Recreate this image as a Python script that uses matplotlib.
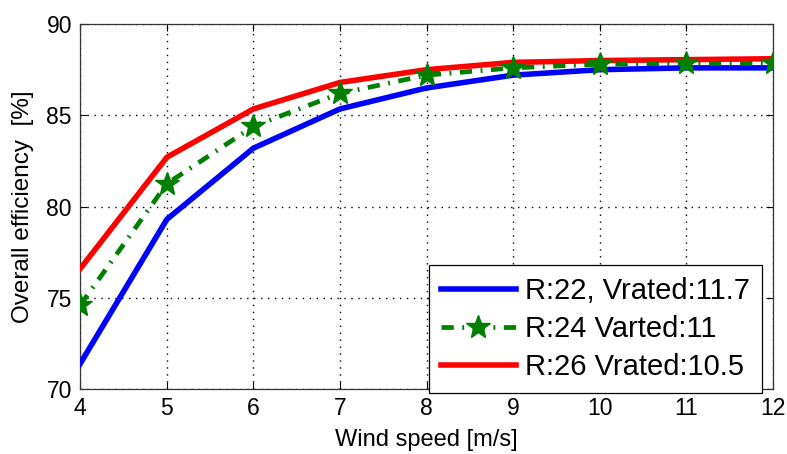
import matplotlib
matplotlib.use("Agg")
import matplotlib.pyplot as plt

plt.rcParams['font.family'] = ['Liberation Sans', 'DejaVu Sans']

# wind speed vs. overall efficiency for three rotor sizes
wind_speed = [4, 5, 6, 7, 8, 9, 10, 11, 12]
eff_r22 = [71.4, 79.3, 83.2, 85.35, 86.5, 87.2, 87.5, 87.6, 87.6]
eff_r24 = [74.6, 81.25, 84.4, 86.2, 87.2, 87.6, 87.8, 87.85, 87.85]
eff_r26 = [76.6, 82.7, 85.35, 86.8, 87.5, 87.9, 88.0, 88.05, 88.1]
labels = ['R:22, Vrated:11.7', 'R:24 Varted:11', 'R:26 Vrated:10.5']

fig = plt.figure(figsize=(7.87, 4.54), dpi=100)
ax = fig.add_axes([0.102, 0.143, 0.880, 0.804])

ax.plot(wind_speed, eff_r22, color=(0, 0, 1), lw=4.0, label=labels[0], zorder=3)
ax.plot(wind_speed, eff_r24, color=(0, 0.5, 0), lw=3.4, ls=(0, (2.6, 1.8, 0.4, 1.8)),
        marker='*', markersize=18, label=labels[1], zorder=5)
ax.plot(wind_speed, eff_r26, color=(1, 0, 0), lw=4.0, label=labels[2], zorder=4)

ax.set_xlim(4, 12)
ax.set_ylim(70, 90)
ax.set_xticks(range(4, 13))
ax.set_yticks([70, 75, 80, 85, 90])
ax.grid(True, color='black', ls=(0, (1, 4)), lw=1.0)
ax.tick_params(direction='in', labelsize=16.5, length=5, top=True, right=True, pad=6)
for s in ax.spines.values():
    s.set_linewidth(0.9)
    s.set_color('#333333')

ax.set_xlabel('Wind speed [m/s]', fontsize=17, labelpad=6)
ax.set_ylabel('Overall efficiency  [%]', fontsize=17.5, labelpad=9)

leg = ax.legend(loc='lower right', bbox_to_anchor=(0.968, 0.134),
                bbox_transform=fig.transFigure, fontsize=21, fancybox=False,
                framealpha=1, edgecolor='black', handlelength=2.6,
                numpoints=1, borderpad=0.4, labelspacing=0.35, handletextpad=0.3,
                borderaxespad=0)
leg.get_frame().set_linewidth(0.9)
leg.set_zorder(10)

fig.savefig('out.png', dpi=100)
